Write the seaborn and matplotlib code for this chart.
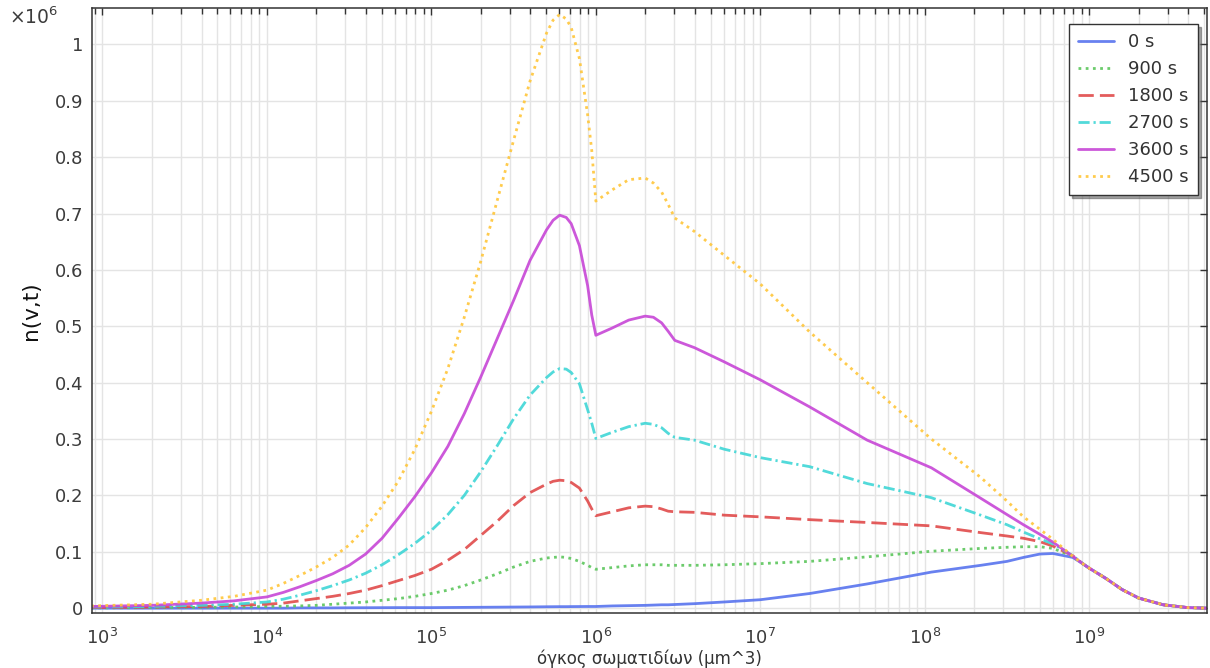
import pandas as pd
import matplotlib
matplotlib.use("Agg")
import matplotlib.pyplot as plt
import matplotlib.ticker as mticker
import seaborn as sns

# particle volume grid, as log10 of the volume in um^3
log_volume = [2.93, 3.3, 3.6, 3.8, 4.0, 4.1, 4.2, 4.3, 4.4, 4.5,
              4.6, 4.7, 4.8, 4.9, 5.0, 5.1, 5.2, 5.3, 5.4, 5.5,
              5.6, 5.7, 5.74, 5.78, 5.82, 5.85, 5.9, 5.95, 5.975, 6.0,
              6.1, 6.2, 6.3, 6.35, 6.4, 6.44, 6.48, 6.6, 6.78, 7.0,
              7.3, 7.65, 8.04, 8.34, 8.5, 8.6, 8.7, 8.78, 8.9,
              8.96, 9.0, 9.1, 9.2, 9.3, 9.45, 9.6, 9.716]

# shared tail of every distribution near and beyond 1e9 um^3
tail = [0.079, 0.071, 0.053, 0.033, 0.018, 0.006, 0.001, 0.0]

# number density n(v,t), in units of 10^6
n_0 = [0.0, 0.0, 0.0, 0.0, 0.0, 0.0, 0.0005, 0.0005, 0.0005, 0.0007,
       0.0008, 0.0009, 0.001, 0.001, 0.001, 0.0012, 0.0014, 0.0016, 0.0018, 0.002,
       0.0022, 0.0025, 0.0026, 0.0027, 0.0027, 0.0028, 0.0029, 0.003, 0.003, 0.003,
       0.004, 0.0045, 0.005, 0.0055, 0.006, 0.006, 0.0065, 0.008, 0.011, 0.015,
       0.026, 0.043, 0.064, 0.076, 0.083, 0.090, 0.096, 0.097, 0.090] + tail
n_900 = [0.0005, 0.001, 0.0015, 0.002, 0.003, 0.0035, 0.004, 0.005, 0.007, 0.009,
         0.011, 0.014, 0.017, 0.021, 0.026, 0.032, 0.040, 0.050, 0.061, 0.073,
         0.083, 0.089, 0.090, 0.091, 0.090, 0.088, 0.083, 0.076, 0.072, 0.069,
         0.072, 0.075, 0.077, 0.077, 0.077, 0.076, 0.076, 0.076, 0.077, 0.079,
         0.083, 0.091, 0.101, 0.106, 0.108, 0.109, 0.109, 0.106, 0.092] + tail
n_1800 = [0.001, 0.002, 0.003, 0.005, 0.007, 0.009, 0.013, 0.017, 0.021, 0.026,
          0.032, 0.040, 0.049, 0.058, 0.069, 0.085, 0.104, 0.129, 0.154, 0.182,
          0.205, 0.220, 0.225, 0.227, 0.226, 0.223, 0.213, 0.190, 0.176, 0.164,
          0.171, 0.178, 0.181, 0.180, 0.176, 0.172, 0.171, 0.170, 0.165, 0.162,
          0.157, 0.152, 0.146, 0.134, 0.128, 0.124, 0.118, 0.110, 0.093] + tail
n_2700 = [0.002, 0.003, 0.005, 0.007, 0.011, 0.016, 0.023, 0.031, 0.040, 0.050,
          0.062, 0.077, 0.095, 0.115, 0.138, 0.166, 0.200, 0.242, 0.288, 0.336,
          0.378, 0.409, 0.419, 0.425, 0.424, 0.418, 0.398, 0.352, 0.328, 0.301,
          0.312, 0.322, 0.328, 0.326, 0.320, 0.310, 0.303, 0.298, 0.282, 0.267,
          0.251, 0.221, 0.196, 0.165, 0.148, 0.135, 0.123, 0.114, 0.093] + tail
n_3600 = [0.003, 0.005, 0.009, 0.013, 0.020, 0.028, 0.038, 0.049, 0.061, 0.076,
          0.096, 0.124, 0.160, 0.198, 0.240, 0.287, 0.345, 0.410, 0.478, 0.546,
          0.617, 0.671, 0.688, 0.697, 0.693, 0.682, 0.643, 0.572, 0.520, 0.484,
          0.497, 0.511, 0.518, 0.516, 0.506, 0.491, 0.475, 0.462, 0.437, 0.405,
          0.357, 0.298, 0.249, 0.195, 0.166, 0.148, 0.131, 0.117, 0.092] + tail
n_4500 = [0.004, 0.007, 0.014, 0.021, 0.032, 0.044, 0.058, 0.073, 0.090, 0.112,
          0.143, 0.181, 0.226, 0.282, 0.349, 0.425, 0.516, 0.615, 0.723, 0.830,
          0.935, 1.020, 1.043, 1.053, 1.045, 1.030, 0.975, 0.875, 0.812, 0.722,
          0.742, 0.760, 0.763, 0.754, 0.738, 0.716, 0.692, 0.668, 0.626, 0.575,
          0.490, 0.400, 0.300, 0.232, 0.190, 0.162, 0.140, 0.122, 0.092] + tail

labels = ["0 s", "900 s", "1800 s", "2700 s", "3600 s", "4500 s"]
colors = ["#5873ee", "#5cc65c", "#e04a4a", "#3fd6d6", "#c746d6", "#ffc63a"]
dash_styles = ["", (1, 1.6), (5.5, 2.2), (4, 1.4, 0.8, 1.4), "", (1, 1.6)]
x_ticks = [1e3, 1e4, 1e5, 1e6, 1e7, 1e8, 1e9]

SCALE = 1e6
volume = [10 ** e for e in log_volume]
frames = []
for lab, vals in zip(labels, [n_0, n_900, n_1800, n_2700, n_3600, n_4500]):
    frames.append(pd.DataFrame({"volume": volume,
                                "n": [v * SCALE for v in vals],
                                "time": lab}))
df = pd.concat(frames, ignore_index=True)

sns.set_style("white")
plt.rcParams["font.family"] = ["DejaVu Sans"]

fig = plt.figure(figsize=(12.1, 6.68), dpi=100)
ax = fig.add_axes([0.0758, 0.0828, 0.9217, 0.9048])

sns.lineplot(data=df, x="volume", y="n", hue="time", style="time",
             hue_order=labels, style_order=labels,
             palette=dict(zip(labels, colors)),
             dashes=dict(zip(labels, dash_styles)),
             estimator=None, sort=False, linewidth=2.0, alpha=0.9, ax=ax)

ax.set_xscale("log")
ax.set_xlim(860, 5.2e9)
ax.set_ylim(-0.008 * SCALE, 1.064 * SCALE)

ax.xaxis.set_major_locator(mticker.FixedLocator(x_ticks))
ax.xaxis.set_major_formatter(mticker.LogFormatterSciNotation())
ax.xaxis.set_minor_locator(mticker.LogLocator(base=10, subs=range(2, 10), numticks=100))
ax.xaxis.set_minor_formatter(mticker.NullFormatter())
ax.yaxis.set_major_locator(mticker.MultipleLocator(0.1 * SCALE))
ax.yaxis.set_major_formatter(mticker.FuncFormatter(
    lambda v, p: f"{v / SCALE:.1f}".rstrip("0").rstrip(".")))

ax.grid(True, which="major", color="#e4e4e4", linewidth=1.0)
ax.grid(True, which="minor", axis="x", color="#e4e4e4", linewidth=1.0)
ax.set_axisbelow(True)

for side in ["left", "right", "top", "bottom"]:
    ax.spines[side].set_visible(True)
    ax.spines[side].set_color("#333333")
    ax.spines[side].set_linewidth(1.1)

ax.tick_params(which="both", direction="in", top=True, right=True,
               colors="#333333", labelcolor="#3c3c3c")
ax.tick_params(which="major", length=5, width=1.0, labelsize=13)
ax.tick_params(axis="x", which="major", pad=11)
ax.tick_params(axis="y", which="major", pad=6)
ax.tick_params(which="minor", length=4, width=1.0)

ax.set_xlabel("όγκος σωματιδίων (μm^3)", fontsize=12, color="#333333", labelpad=1)
ax.set_ylabel("n(v,t)", fontsize=15.5, color="#111111", labelpad=10)

fig.text(9 / 1210, 1 - 17 / 668, r"$\times10^{6}$", fontsize=13.5,
         color="#3c3c3c", va="center", ha="left")

old = ax.get_legend()
handles = old.legend_handles
texts = [t.get_text() for t in old.get_texts()]
old.remove()
leg = ax.legend(handles, texts, loc="upper right",
                bbox_to_anchor=(0.992, 0.9735), borderaxespad=0,
                fontsize=13, frameon=True, fancybox=False, shadow=True,
                framealpha=1, edgecolor="#333333", handlelength=2.0,
                labelspacing=0.5, borderpad=0.5, handletextpad=0.8)
leg.get_frame().set_linewidth(1.0)
for t in leg.get_texts():
    t.set_color("#333333")

fig.savefig("out.png", dpi=100)
